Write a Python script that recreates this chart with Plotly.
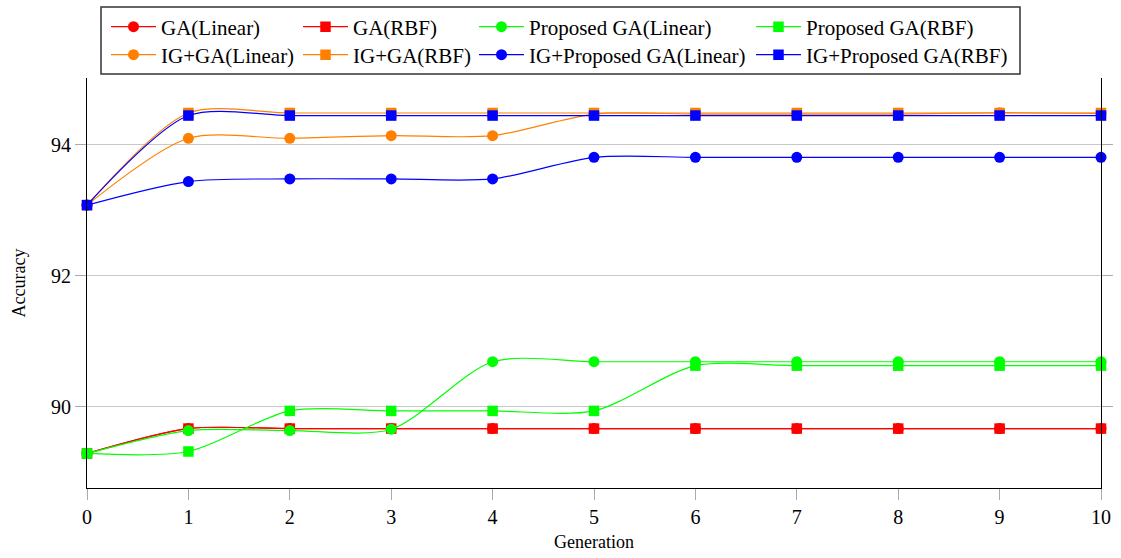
import plotly.graph_objects as go

generations = list(range(11))

ga_linear = [89.29, 89.67, 89.67, 89.67, 89.67, 89.67, 89.67, 89.67, 89.67, 89.67, 89.67]
ga_rbf = [89.29, 89.67, 89.67, 89.67, 89.67, 89.67, 89.67, 89.67, 89.67, 89.67, 89.67]
prop_linear = [89.29, 89.64, 89.64, 89.66, 90.69, 90.69, 90.69, 90.69, 90.69, 90.69, 90.69]
prop_rbf = [89.29, 89.32, 89.94, 89.94, 89.94, 89.94, 90.63, 90.63, 90.63, 90.63, 90.63]
ig_ga_linear = [93.08, 94.10, 94.10, 94.14, 94.14, 94.47, 94.47, 94.47, 94.47, 94.49, 94.48]
ig_ga_rbf = [93.08, 94.486, 94.486, 94.486, 94.486, 94.486, 94.486, 94.486, 94.486, 94.486, 94.486]
ig_prop_linear = [93.08, 93.44, 93.48, 93.48, 93.48, 93.81, 93.81, 93.81, 93.81, 93.81, 93.81]
ig_prop_rbf = [93.08, 94.447, 94.447, 94.447, 94.447, 94.447, 94.447, 94.447, 94.447, 94.447, 94.447]

# (name, values, colour, marker, legend column, legend row)
series = [
    ("GA(Linear)", ga_linear, "#ff0000", "circle", 0, 0),
    ("GA(RBF)", ga_rbf, "#ff0000", "square", 1, 0),
    ("Proposed GA(Linear)", prop_linear, "#00ff00", "circle", 2, 0),
    ("Proposed GA(RBF)", prop_rbf, "#00ff00", "square", 3, 0),
    ("IG+GA(Linear)", ig_ga_linear, "#ff8000", "circle", 0, 1),
    ("IG+GA(RBF)", ig_ga_rbf, "#ff8000", "square", 1, 1),
    ("IG+Proposed GA(Linear)", ig_prop_linear, "#0000ff", "circle", 2, 1),
    ("IG+Proposed GA(RBF)", ig_prop_rbf, "#0000ff", "square", 3, 1),
]

FONT = "Liberation Serif"

W, H = 1121, 558
L, R, T, B = 87, 1101, 78, 488
pw, ph = R - L, B - T

def px_x(p):
    return (p - L) / pw

def px_y(p):
    return (B - p) / ph

legend_x = [106, 298, 474, 751]
legend_y = [27, 55]

leg_common = dict(
    bgcolor="rgba(0,0,0,0)", borderwidth=0,
    font=dict(family=FONT, size=21, color="#000"),
    xanchor="left", yanchor="middle", orientation="v",
    itemwidth=45, tracegroupgap=0,
)

fig = go.Figure()
legends = {}
for i, (name, vals, color, sym, col, row) in enumerate(series):
    key = "legend" if i == 0 else f"legend{i + 1}"
    fig.add_trace(go.Scatter(
        x=generations, y=vals, name=name, mode="lines+markers",
        line=dict(color=color, width=1.2, shape="spline", smoothing=0.8),
        marker=dict(symbol=sym, size=11 if sym == "circle" else 10.5, color=color),
        legend=key, cliponaxis=False,
    ))
    legends[key] = dict(x=px_x(legend_x[col]), y=px_y(legend_y[row]), **leg_common)

fig.update_layout(
    width=W, height=H,
    margin=dict(l=L, r=W - R, t=T, b=H - B, autoexpand=False),
    paper_bgcolor="white", plot_bgcolor="white",
    font=dict(family=FONT, size=20, color="#000"),
    showlegend=True,
    xaxis=dict(
        range=[0, 10], tickmode="array", tickvals=generations,
        ticktext=[str(g) for g in generations],
        showgrid=False, zeroline=False,
        showline=True, linecolor="#000", linewidth=1.2,
        ticks="outside", ticklen=11, tickcolor="#aaaaaa", tickwidth=1,
        tickfont=dict(family=FONT, size=20),
        title=dict(text="Generation", font=dict(family=FONT, size=18), standoff=8),
    ),
    yaxis=dict(
        range=[88.763, 95.02], tickmode="array", tickvals=[90, 92, 94],
        ticktext=["90", "92", "94"],
        showgrid=True, gridcolor="#c8c8c8", gridwidth=1, zeroline=False,
        showline=True, linecolor="#000", linewidth=1.2, mirror="ticks",
        ticks="outside", ticklen=11, tickcolor="#aaaaaa", tickwidth=1,
        tickfont=dict(family=FONT, size=20),
        title=dict(text="Accuracy", font=dict(family=FONT, size=18), standoff=20),
    ),
    shapes=[dict(
        type="rect", xref="paper", yref="paper",
        x0=px_x(101), x1=px_x(1020), y0=px_y(74), y1=px_y(7),
        line=dict(color="#333333", width=1.5), fillcolor="rgba(0,0,0,0)",
        layer="above",
    )],
    **legends,
)

fig.write_html("out.html", config={"displayModeBar": False},
               post_script="document.body.style.margin='0';")
